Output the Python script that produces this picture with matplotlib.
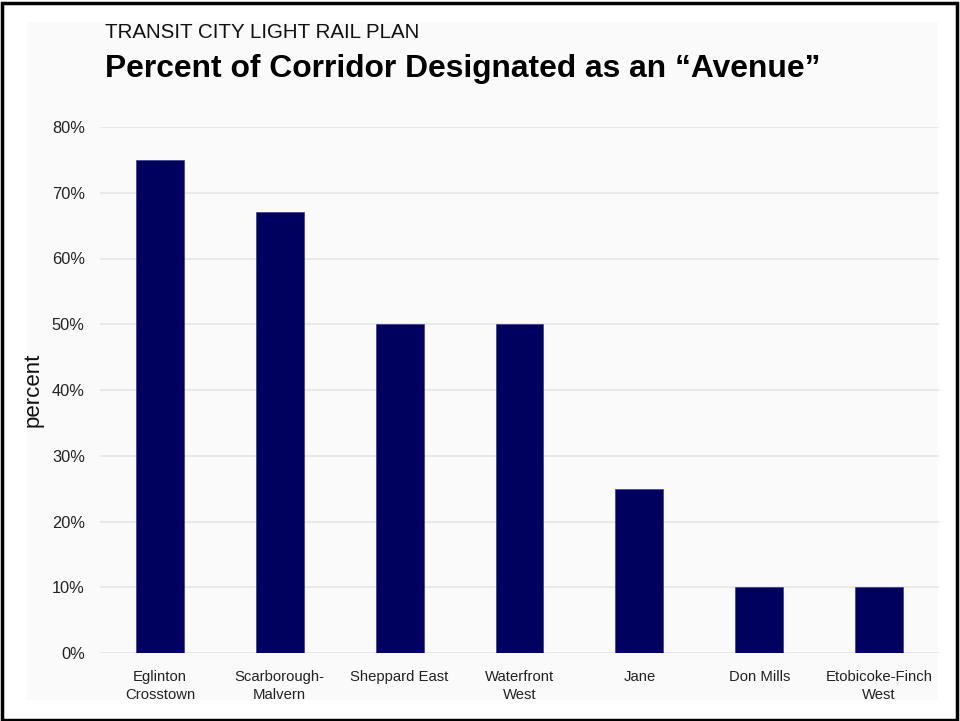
import matplotlib
matplotlib.use("Agg")
import matplotlib.pyplot as plt
from matplotlib.patches import Rectangle
from matplotlib.ticker import FuncFormatter

corridors = ["Eglinton\nCrosstown", "Scarborough-\nMalvern", "Sheppard East",
             "Waterfront\nWest", "Jane", "Don Mills", "Etobicoke-Finch\nWest"]
avenue_pct = [75, 67, 50, 50, 25, 10, 10]
y_ticks = [0, 10, 20, 30, 40, 50, 60, 70, 80]

plt.rcParams['font.family'] = ['Liberation Sans', 'DejaVu Sans']

W, H = 960, 721
fig = plt.figure(figsize=(W / 100, H / 100), dpi=100)
fig.patch.set_facecolor("white")

# light panel behind the chart
fig.patches.append(Rectangle((27 / W, 1 - 700 / H), (938 - 27) / W, (700 - 22) / H,
                             transform=fig.transFigure, facecolor="#fafafa",
                             edgecolor="none", zorder=-5))
# black frame
fig.patches.append(Rectangle((1.5 / W, 1.5 / H), (W - 5) / W, (H - 4) / H,
                             transform=fig.transFigure, facecolor="none",
                             edgecolor="black", linewidth=2.5, zorder=10))

ax = fig.add_axes([100 / W, 1 - 653 / H, (939 - 100) / W, (653 - 127) / H])
ax.set_facecolor("none")
ax.bar(range(len(corridors)), avenue_pct, width=0.4, color="#00005f",
       edgecolor="#3a3a8a", linewidth=0.5, zorder=3)
ax.set_xlim(-0.5, 6.5)
ax.set_ylim(0, 80)
ax.set_yticks(y_ticks)
ax.yaxis.set_major_formatter(FuncFormatter(lambda v, p: f"{v:.0f}%"))
ax.set_xticks(range(len(corridors)))
ax.set_xticklabels(corridors, fontsize=10.7, color="#222222", linespacing=1.35)
ax.tick_params(axis="both", length=0, colors="#222222")
ax.tick_params(axis="x", pad=12, labelsize=10.7)
ax.tick_params(axis="y", pad=11, labelsize=11.8)
ax.grid(axis="y", color="#e6e6e6", linewidth=1.2, zorder=0)
ax.set_axisbelow(True)
for s in ax.spines.values():
    s.set_visible(False)
ax.set_ylabel("percent", fontsize=16, color="#111111", labelpad=6)

fig.text(105 / W, 1 - 33 / H, "TRANSIT CITY LIGHT RAIL PLAN", fontsize=14.8,
         ha="left", va="center", color="#111111")
fig.text(105 / W, 1 - 69 / H, "Percent of Corridor Designated as an \u201cAvenue\u201d",
         fontsize=22.9, fontweight="bold", ha="left", va="center", color="black")

fig.savefig("out.png", dpi=100)
